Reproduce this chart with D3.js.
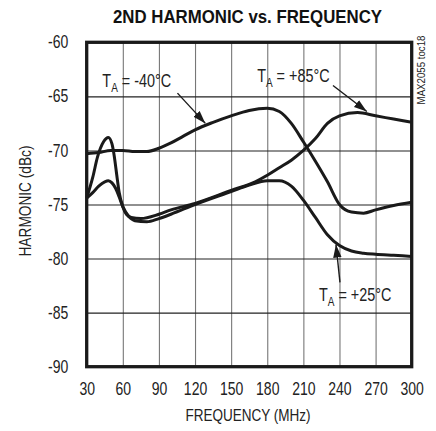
<!DOCTYPE html>
<html>
<head>
<meta charset="utf-8">
<script src="https://cdn.jsdelivr.net/npm/d3@7"></script>
<style>
  body { margin: 0; background: #fff; }
  svg { display: block; }
  text { font-family: "Liberation Sans", Arial, Helvetica, sans-serif; fill: #222; }
</style>
</head>
<body>
<svg id="chart" width="436" height="431"></svg>
<script>
// Axis ticks
const freqTicks = [30, 60, 90, 120, 150, 180, 210, 240, 270, 300];
const dbcTicks = [-60, -65, -70, -75, -80, -85, -90];

// TA = -40°C
const freqM40 = [30, 40, 50, 60, 70, 80, 90, 100, 110, 120, 135, 150, 165, 180, 190, 200, 210, 220, 230, 240, 250, 260, 270, 285, 300];
const dbcM40  = [-70.3, -70.2, -70.0, -70.0, -70.1, -70.1, -69.8, -69.3, -68.7, -68.1, -67.4, -66.8, -66.3, -66.1, -66.4, -67.5, -69.2, -71.0, -72.9, -75.0, -75.7, -75.8, -75.5, -75.1, -74.8];

// TA = +85°C
const freqP85 = [30, 35, 39, 44, 48, 51, 53, 55, 57, 60, 63, 67, 75, 90, 100, 120, 150, 170, 180, 190, 200, 210, 220, 230, 240, 255, 270, 285, 300];
const dbcP85  = [-74.4, -72.5, -70.6, -69.2, -68.8, -69.4, -70.6, -72.3, -73.9, -75.2, -75.9, -76.2, -76.3, -75.9, -75.5, -74.9, -73.7, -72.9, -72.3, -71.6, -70.9, -70.0, -68.9, -67.5, -66.8, -66.5, -66.8, -67.1, -67.4];

// TA = +25°C
const freqP25 = [30, 35, 40, 45, 48, 51, 54, 57, 60, 65, 70, 80, 90, 100, 120, 150, 165, 180, 190, 200, 210, 220, 230, 240, 250, 260, 270, 285, 300];
const dbcP25  = [-74.4, -73.9, -73.3, -72.9, -72.8, -73.0, -73.5, -74.3, -75.2, -76.1, -76.5, -76.6, -76.3, -75.9, -75.0, -73.8, -73.2, -72.8, -72.8, -73.3, -74.6, -76.2, -77.8, -78.8, -79.3, -79.5, -79.6, -79.7, -79.8];

// Curve labels: temperature, label anchor (MHz, dBc), arrow tail and tip (MHz, dBc)
const labelTemps = ["-40°C", "+85°C", "+25°C"];
const labelAt    = [[43, -64.15], [171.6, -63.7], [223, -83.9]];
const arrowFrom  = [[105.4, -64.7], [234.6, -64.0], [240.4, -82.2]];
const arrowTo    = [[128.6, -67.5], [262.7, -66.4], [237.1, -78.7]];

const series = [
  { freq: freqM40, dbc: dbcM40 },
  { freq: freqP85, dbc: dbcP85 },
  { freq: freqP25, dbc: dbcP25 }
];

const svg = d3.select("#chart");
const plotL = 86.7, plotR = 411.7, plotT = 42.3, plotB = 366.7;
const x = d3.scaleLinear().domain([30, 300]).range([plotL, plotR]);
const y = d3.scaleLinear().domain([-90, -60]).range([plotB, plotT]);

// Condensed lettering: horizontally squeezed text
const narrow = 0.8;
function condensedText(parent, tx, ty, rot, sx, size) {
  return parent.append("g")
    .attr("transform", `translate(${tx},${ty}) rotate(${rot}) scale(${sx},1)`)
    .append("text").style("font-size", size + "px");
}

// Title
condensedText(svg, 247.5, 22.8, 0, 0.885, 19)
  .attr("text-anchor", "middle")
  .style("font-weight", "bold").style("fill", "#111")
  .text("2ND HARMONIC vs. FREQUENCY");

// Grid: vertical (grey) and horizontal (dark)
const grid = svg.append("g");
grid.append("g")
  .attr("transform", `translate(0,${plotB})`)
  .call(d3.axisBottom(x).tickValues(freqTicks.slice(1, -1)).tickSize(-(plotB - plotT)).tickFormat(""))
  .call(g => g.select(".domain").remove())
  .call(g => g.selectAll("line").attr("stroke", "#777").attr("stroke-width", 1.1));
grid.append("g")
  .attr("transform", `translate(${plotL},0)`)
  .call(d3.axisLeft(y).tickValues(dbcTicks.slice(1, -1)).tickSize(-(plotR - plotL)).tickFormat(""))
  .call(g => g.select(".domain").remove())
  .call(g => g.selectAll("line").attr("stroke", "#222").attr("stroke-width", 1.1));

// Tick labels
const tickSize = 17.5;
svg.append("g")
  .attr("transform", `translate(0,${plotB})`)
  .call(d3.axisBottom(x).tickValues(freqTicks).tickSize(0).tickPadding(16).tickFormat(d => String(d)))
  .call(g => g.select(".domain").remove())
  .call(g => g.selectAll("text")
    .style("font-size", tickSize + "px").attr("font-family", null).attr("fill", null)
    .attr("transform", `scale(${narrow},1)`));
const yPad = 18.5;
svg.append("g")
  .attr("transform", `translate(${plotL},0)`)
  .call(d3.axisLeft(y).tickValues(dbcTicks).tickSize(0).tickPadding(yPad).tickFormat(d => String(d)))
  .call(g => g.select(".domain").remove())
  .call(g => g.selectAll("text")
    .style("font-size", tickSize + "px").attr("font-family", null).attr("fill", null)
    .attr("x", -yPad / narrow)
    .attr("transform", `scale(${narrow},1)`));

// Axis titles
condensedText(svg, 248, 421, 0, 0.82, 16.5)
  .attr("text-anchor", "middle")
  .text("FREQUENCY (MHz)");
condensedText(svg, 31, 201, -90, 0.83, 16.5)
  .attr("text-anchor", "middle")
  .text("HARMONIC (dBc)");
condensedText(svg, 425, 70, -90, 0.88, 11)
  .attr("text-anchor", "middle")
  .text("MAX2055 toc18");

// Curves
const line = d3.line()
  .x(d => x(d[0])).y(d => y(d[1]))
  .curve(d3.curveMonotoneX);
svg.append("g").selectAll("path")
  .data(series)
  .join("path")
  .attr("d", s => line(s.freq.map((f, i) => [f, s.dbc[i]])))
  .attr("fill", "none").attr("stroke", "#1a1a1a")
  .attr("stroke-width", 3).attr("stroke-linejoin", "round");

// Plot frame
svg.append("rect")
  .attr("x", plotL).attr("y", plotT)
  .attr("width", plotR - plotL).attr("height", plotB - plotT)
  .attr("fill", "none").attr("stroke", "#1a1a1a").attr("stroke-width", 3.3);

// Arrowhead
svg.append("defs").append("marker")
  .attr("id", "arrowhead")
  .attr("markerUnits", "userSpaceOnUse")
  .attr("viewBox", "0 -5 13 10")
  .attr("refX", 13).attr("refY", 0)
  .attr("markerWidth", 13).attr("markerHeight", 10)
  .attr("orient", "auto")
  .append("path").attr("d", "M0,-4.2L13,0L0,4.2Z").attr("fill", "#1a1a1a");

// Annotation arrows
svg.append("g").selectAll("line")
  .data(labelTemps)
  .join("line")
  .attr("x1", (d, i) => x(arrowFrom[i][0])).attr("y1", (d, i) => y(arrowFrom[i][1]))
  .attr("x2", (d, i) => x(arrowTo[i][0])).attr("y2", (d, i) => y(arrowTo[i][1]))
  .attr("stroke", "#1a1a1a").attr("stroke-width", 1.4)
  .attr("marker-end", "url(#arrowhead)");

// Annotation labels: T with subscript A
labelTemps.forEach((temp, i) => {
  const t = condensedText(svg, x(labelAt[i][0]), y(labelAt[i][1]), 0, narrow, 18);
  t.append("tspan").text("T");
  t.append("tspan").attr("dy", 5).style("font-size", "12.5px").text("A");
  t.append("tspan").attr("dy", -5).text(" = " + temp);
});
</script>
</body>
</html>
